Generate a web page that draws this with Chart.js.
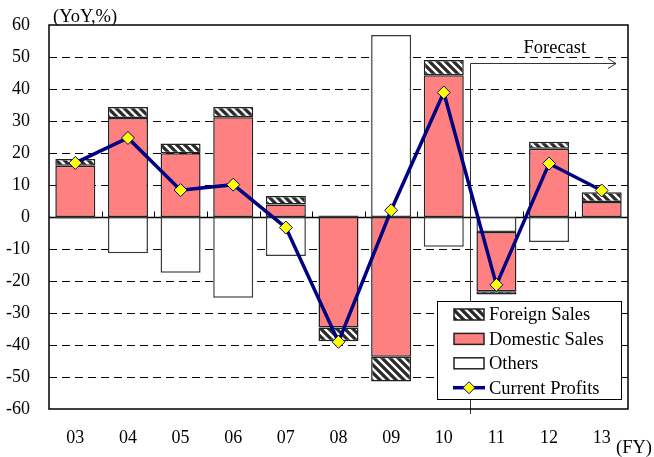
<!DOCTYPE html>
<html>
<head>
<meta charset="utf-8">
<script src="https://cdn.jsdelivr.net/npm/chart.js@4/dist/chart.umd.min.js"></script>
<style>
  html, body { margin: 0; padding: 0; background: #fff; }
  #wrap { width: 654px; height: 457px; }
</style>
</head>
<body>
<div id="wrap"><canvas id="c" width="654" height="457"></canvas></div>
<script>
// Fiscal years and year-on-year contributions (%)
const categories = ['03', '04', '05', '06', '07', '08', '09', '10', '11', '12', '13'];
const others         = [-0.5, -11.3, -17.4, -25.2, -12.2, 0.5, 56.9, -9.3, -4.7, -7.8, -0.3];
const domesticSales  = [16.0, 30.9, 19.9, 31.2, 3.9, -34.5, -43.7, 44.3, -18.5, 21.3, 4.7];
const foreignSales   = [2.1, 3.5, 3.1, 3.2, 2.7, -4.3, -7.7, 4.8, -1.0, 2.2, 3.0];
const currentProfits = [16.9, 24.7, 8.4, 10.1, -3.3, -39.0, 2.1, 38.9, -21.2, 16.7, 8.3];
const yTicks = [-60, -50, -40, -30, -20, -10, 0, 10, 20, 30, 40, 50, 60];
const forecastStart = 8;      // index of the first forecast year ('11')
const forecastLevel = 48;     // value where the forecast arrow runs

const FONT = "'Liberation Serif', 'Times New Roman', serif";
const NAVY = '#000080';
const PINK = '#FF8080';
const EDGE = '#222222';

// diagonal hatch used for foreign sales
function makeHatch() {
  const s = 8;
  const c = document.createElement('canvas');
  c.width = s; c.height = s;
  const g = c.getContext('2d');
  g.fillStyle = '#ffffff';
  g.fillRect(0, 0, s, s);
  g.strokeStyle = '#2a2a2a';
  g.lineWidth = 3.2;
  g.beginPath();
  for (let k = -1; k <= 1; k++) {
    g.moveTo(k * s - 1, -1);
    g.lineTo(k * s + s + 1, s + 1);
  }
  g.stroke();
  return g.createPattern(c, 'repeat');
}
const hatch = makeHatch();

function drawDiamond(ctx, cx, cy, r) {
  ctx.beginPath();
  ctx.moveTo(cx, cy - r);
  ctx.lineTo(cx + r, cy);
  ctx.lineTo(cx, cy + r);
  ctx.lineTo(cx - r, cy);
  ctx.closePath();
  ctx.fillStyle = '#FFFF00';
  ctx.fill();
  ctx.lineWidth = 1;
  ctx.strokeStyle = NAVY;
  ctx.stroke();
}

const decor = {
  id: 'decor',
  beforeDatasetsDraw(chart) {
    const { ctx, chartArea: a, scales: { x, y } } = chart;
    ctx.save();
    // dashed grid lines
    ctx.strokeStyle = '#000';
    ctx.lineWidth = 1;
    ctx.setLineDash([8, 5]);
    yTicks.forEach(v => {
      if (v === 0 || v === yTicks[0] || v === yTicks[yTicks.length - 1]) return;
      const py = Math.round(y.getPixelForValue(v)) + 0.5;
      ctx.beginPath();
      ctx.moveTo(a.left, py);
      ctx.lineTo(a.right, py);
      ctx.stroke();
    });
    ctx.setLineDash([]);
    // zero line and category ticks
    const y0 = Math.round(y.getPixelForValue(0)) + 0.5;
    ctx.lineWidth = 1.5;
    ctx.beginPath();
    ctx.moveTo(a.left, y0);
    ctx.lineTo(a.right, y0);
    ctx.stroke();
    ctx.lineWidth = 1;
    for (let i = 1; i < categories.length; i++) {
      const px = Math.round((x.getPixelForValue(i - 1) + x.getPixelForValue(i)) / 2) + 0.5;
      ctx.beginPath();
      ctx.moveTo(px, y0 - 6);
      ctx.lineTo(px, y0);
      ctx.stroke();
    }
    // forecast divider and arrow
    const fx = Math.round((x.getPixelForValue(forecastStart - 1) + x.getPixelForValue(forecastStart)) / 2) + 0.5;
    const fy = Math.round(y.getPixelForValue(forecastLevel)) + 0.5;
    const ax = a.right - 12;
    ctx.strokeStyle = '#333';
    ctx.lineWidth = 1;
    ctx.beginPath();
    ctx.moveTo(fx, fy);
    ctx.lineTo(fx, a.bottom + 5);
    ctx.moveTo(fx, fy);
    ctx.lineTo(ax, fy);
    ctx.moveTo(ax - 8, fy - 5);
    ctx.lineTo(ax, fy);
    ctx.lineTo(ax - 8, fy + 5);
    ctx.stroke();
    ctx.fillStyle = '#000';
    ctx.font = '18.5px ' + FONT;
    ctx.textAlign = 'left';
    ctx.textBaseline = 'alphabetic';
    ctx.fillText('Forecast', fx + 53, fy - 11);
    ctx.restore();
  },
  afterDatasetsDraw(chart) {
    const { ctx, chartArea: a } = chart;
    ctx.save();
    // plot frame
    ctx.strokeStyle = '#000';
    ctx.lineWidth = 1.5;
    ctx.strokeRect(a.left, a.top, a.right - a.left, a.bottom - a.top);

    // legend
    const lx = a.right - 191, ly = a.bottom - 108, lw = 184, lh = 98;
    ctx.fillStyle = '#fff';
    ctx.fillRect(lx, ly, lw, lh);
    ctx.lineWidth = 1;
    ctx.strokeStyle = '#000';
    ctx.strokeRect(Math.round(lx) + 0.5, Math.round(ly) + 0.5, lw, lh);
    const ds = chart.data.datasets;
    const rows = [ds[2], ds[1], ds[0], ds[3]];
    const sx = lx + 17, sw = 30, sh = 11;
    ctx.font = '18.5px ' + FONT;
    ctx.textBaseline = 'middle';
    ctx.textAlign = 'left';
    rows.forEach((d, i) => {
      const cy = ly + 13.5 + i * 24.4;
      if (d.type === 'line') {
        ctx.strokeStyle = NAVY;
        ctx.lineWidth = 3.5;
        ctx.beginPath();
        ctx.moveTo(sx - 1, cy);
        ctx.lineTo(sx + sw + 1, cy);
        ctx.stroke();
        drawDiamond(ctx, sx + sw / 2, cy, 6);
      } else {
        ctx.fillStyle = d.backgroundColor;
        ctx.fillRect(sx, cy - sh / 2, sw, sh);
        ctx.strokeStyle = EDGE;
        ctx.lineWidth = 1.5;
        ctx.strokeRect(sx, cy - sh / 2, sw, sh);
      }
      ctx.fillStyle = '#000';
      ctx.fillText(d.label, sx + sw + 5, cy + 1);
    });

    // axis captions
    ctx.textBaseline = 'alphabetic';
    ctx.fillText('(YoY,%)', a.left + 4, a.top - 3);
    ctx.fillText('(FY)', a.right - 12, 453);
    ctx.restore();
  }
};

new Chart(document.getElementById('c'), {
  data: {
    labels: categories,
    datasets: [
      { type: 'bar', label: 'Others', data: others, stack: 'sales', order: 2,
        backgroundColor: '#ffffff', borderColor: '#3a3a3a', borderWidth: 1.5, borderSkipped: false },
      { type: 'bar', label: 'Domestic Sales', data: domesticSales, stack: 'sales', order: 2,
        backgroundColor: PINK, borderColor: EDGE, borderWidth: 1.5, borderSkipped: false },
      { type: 'bar', label: 'Foreign Sales', data: foreignSales, stack: 'sales', order: 2,
        backgroundColor: hatch, borderColor: EDGE, borderWidth: 1.5, borderSkipped: false },
      { type: 'line', label: 'Current Profits', data: currentProfits, stack: 'profits', order: 1,
        borderColor: NAVY, borderWidth: 3.5, tension: 0, fill: false,
        pointStyle: 'rectRot', pointRadius: 6.5, pointBackgroundColor: '#FFFF00',
        pointBorderColor: NAVY, pointBorderWidth: 1 }
    ]
  },
  options: {
    responsive: false,
    animation: false,
    devicePixelRatio: 1,
    layout: { padding: { top: 25, right: 26, left: 0, bottom: 0 } },
    datasets: { bar: { categoryPercentage: 1.0, barPercentage: 0.76 } },
    plugins: { legend: { display: false }, tooltip: { enabled: false } },
    scales: {
      x: {
        stacked: true,
        grid: { display: false, drawTicks: false },
        border: { display: false },
        ticks: { color: '#000', font: { family: FONT, size: 18 }, padding: 18, maxRotation: 0 },
        afterFit(s) { s.height = 48; s.paddingLeft = 0; s.paddingRight = 0; }
      },
      y: {
        stacked: true,
        min: -60, max: 60,
        afterBuildTicks(s) { s.ticks = yTicks.map(v => ({ value: v })); },
        grid: { display: false, drawTicks: false },
        border: { display: false },
        ticks: { color: '#000', font: { family: FONT, size: 18 }, padding: 19 },
        afterFit(s) { s.width = 49; s.paddingTop = 0; s.paddingBottom = 0; }
      }
    }
  },
  plugins: [decor]
});
</script>
</body>
</html>
